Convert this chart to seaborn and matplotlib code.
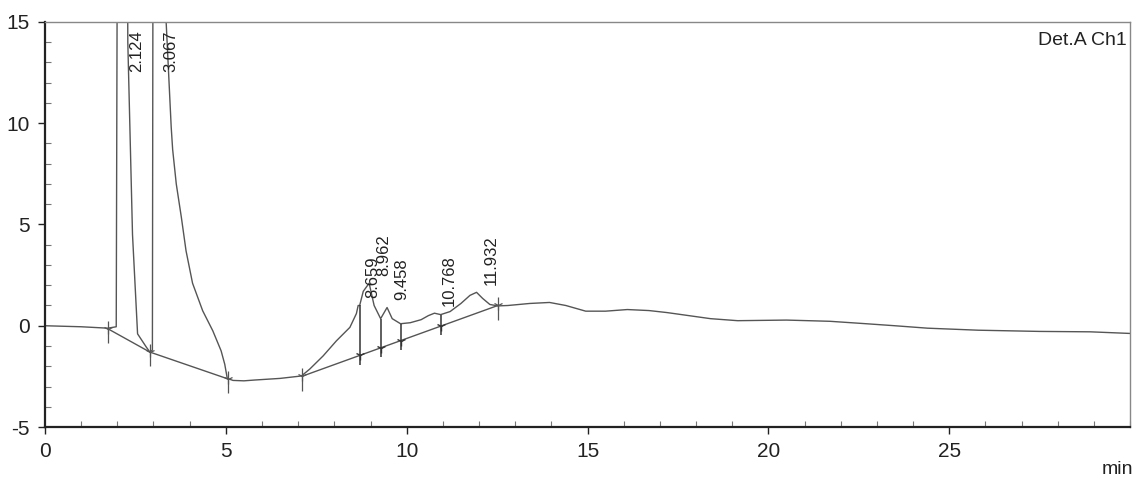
import numpy as np
import pandas as pd
import matplotlib
matplotlib.use("Agg")
import matplotlib.pyplot as plt
from matplotlib.ticker import MultipleLocator
import seaborn as sns

# Detector trace (retention time in min, signal in mV)
time_min = [0.0, 1.0, 1.74, 1.97, 2.124, 2.29, 2.42, 2.56, 2.8, 2.9, 2.97,
            3.067, 3.35, 3.49, 3.53, 3.63, 3.77, 3.9, 4.08, 4.36, 4.64,
            4.87, 4.97, 5.04, 5.2, 5.5, 5.8, 6.5, 7.09, 7.32, 7.69, 8.06,
            8.43, 8.61, 8.659, 8.70, 8.80, 8.962, 9.1, 9.28, 9.458, 9.6,
            9.83, 10.1, 10.4, 10.6, 10.768, 10.94, 11.2, 11.5, 11.75,
            11.932, 12.1, 12.3, 12.52, 12.8, 13.4, 13.95, 14.4, 14.95,
            15.5, 16.1, 16.7, 17.2, 17.8, 18.4, 19.15, 20.5, 21.7, 22.7,
            23.5, 24.4, 25.8, 27.5, 28.9, 30.0]
signal_mv = [0.0, -0.05, -0.12, -0.05, 100.0, 14.0, 4.5, -0.4, -1.05, -1.3, -1.2,
             120.0, 15.0, 9.8, 8.7, 7.0, 5.36, 3.7, 2.1, 0.74, -0.25,
             -1.24, -1.9, -2.6, -2.7, -2.72, -2.68, -2.6, -2.48, -2.14, -1.49, -0.74,
             -0.08, 0.6, 1.0, 1.0, 1.7, 2.1, 1.0, 0.35, 0.9, 0.35,
             0.1, 0.15, 0.3, 0.5, 0.62, 0.55, 0.7, 1.1, 1.5,
             1.65, 1.35, 1.05, 0.98, 1.0, 1.1, 1.15, 1.0, 0.72,
             0.72, 0.8, 0.75, 0.65, 0.5, 0.35, 0.25, 0.28, 0.22, 0.1,
             0.0, -0.12, -0.22, -0.28, -0.3, -0.38]

# Integration baselines (two groups)
base1_time = [1.74, 2.9, 5.05]
base1_sig = [-0.15, -1.3, -2.62]
base2_time = [7.1, 12.52]
base2_sig = [-2.5, 1.0]

# Peak start/end marks and valley drop lines
mark_times_1 = [1.74, 2.9, 5.05]
mark_times_2 = [7.1, 12.52]
drop_times = [8.70, 9.28, 9.83, 10.94]

# Labelled peaks
peak_rt = [2.124, 3.067, 8.659, 8.962, 9.458, 10.768, 11.932]
peak_labels = ["2.124", "3.067", "8.659", "8.962", "9.458", "10.768", "11.932"]

x_ticks = [0, 5, 10, 15, 20, 25]
y_ticks = [-5, 0, 5, 10, 15]

sns.set_theme(style="white")
plt.rcParams["font.family"] = ["Liberation Sans", "DejaVu Sans"]

fig = plt.figure(figsize=(11.33, 4.82), dpi=100)
ax = fig.add_axes([0.0397, 0.1141, 0.9577, 0.8403])

trace_color = "#555555"
trace = pd.DataFrame({"t": time_min, "s": signal_mv})
sns.lineplot(data=trace, x="t", y="s", ax=ax, color=trace_color, lw=1.0,
             estimator=None, sort=False)

b1 = pd.DataFrame({"t": base1_time, "s": base1_sig})
b2 = pd.DataFrame({"t": base2_time, "s": base2_sig})
sns.lineplot(data=b1, x="t", y="s", ax=ax, color=trace_color, lw=1.0,
             estimator=None, sort=False)
sns.lineplot(data=b2, x="t", y="s", ax=ax, color=trace_color, lw=1.0,
             estimator=None, sort=False)

# Drop lines from the trace to below the baseline
for t in drop_times:
    top = np.interp(t, time_min, signal_mv)
    base = np.interp(t, base2_time, base2_sig)
    ax.vlines(t, base - 0.45, top, color="#333333", lw=1.1)
    ax.plot([t], [base], marker="1", color="#333333", ms=7, mew=1.0)

# Start / end marks on the baselines
for times, bt, bs in [(mark_times_1, base1_time, base1_sig),
                      (mark_times_2, base2_time, base2_sig)]:
    for t in times:
        b = np.interp(t, bt, bs)
        ax.vlines(t, b - 0.7, b + 0.4, color="#555555", lw=0.9)
        ax.plot([t], [b], marker="1", color="#555555", ms=7, mew=0.9)

# Retention time labels
ymax = 15
for rt, lab in zip(peak_rt, peak_labels):
    apex = np.interp(rt, time_min, signal_mv)
    if apex + 3 > ymax:
        ax.annotate(lab, xy=(rt, ymax - 0.4), xytext=(10.5, 0),
                    textcoords="offset points", rotation=90,
                    ha="center", va="top", fontsize=12, color="#222222")
    else:
        ax.annotate(lab, xy=(rt, apex + 0.35), xytext=(10.5, 0),
                    textcoords="offset points", rotation=90,
                    ha="center", va="bottom", fontsize=12, color="#222222")

ax.set_xlim(0, 30)
ax.set_ylim(-5, 15)
ax.set_xticks(x_ticks)
ax.set_yticks(y_ticks)
ax.set_xticklabels([str(v) for v in x_ticks])
ax.set_yticklabels([str(v) for v in y_ticks])
ax.xaxis.set_minor_locator(MultipleLocator(1))
ax.yaxis.set_minor_locator(MultipleLocator(1))
ax.tick_params(which="major", direction="out", length=5, width=1.0,
               labelsize=15, colors="#222222", pad=6, left=True, bottom=True)
ax.tick_params(which="minor", direction="in", length=4, width=0.8,
               color="#777777", left=True, bottom=True)
ax.set_xlabel("")
ax.set_ylabel("")

for side in ["left", "bottom"]:
    ax.spines[side].set_color("#222222")
    ax.spines[side].set_linewidth(1.6)
for side in ["top", "right"]:
    ax.spines[side].set_color("#888888")
    ax.spines[side].set_linewidth(1.0)

ax.text(0.997, 0.975, "Det.A Ch1", transform=ax.transAxes, ha="right",
        va="top", fontsize=14, color="#222222")
fig.text(0.986, 0.008, "min", ha="center", va="bottom", fontsize=14,
         color="#222222")

fig.savefig("out.png", dpi=100, facecolor="white")
